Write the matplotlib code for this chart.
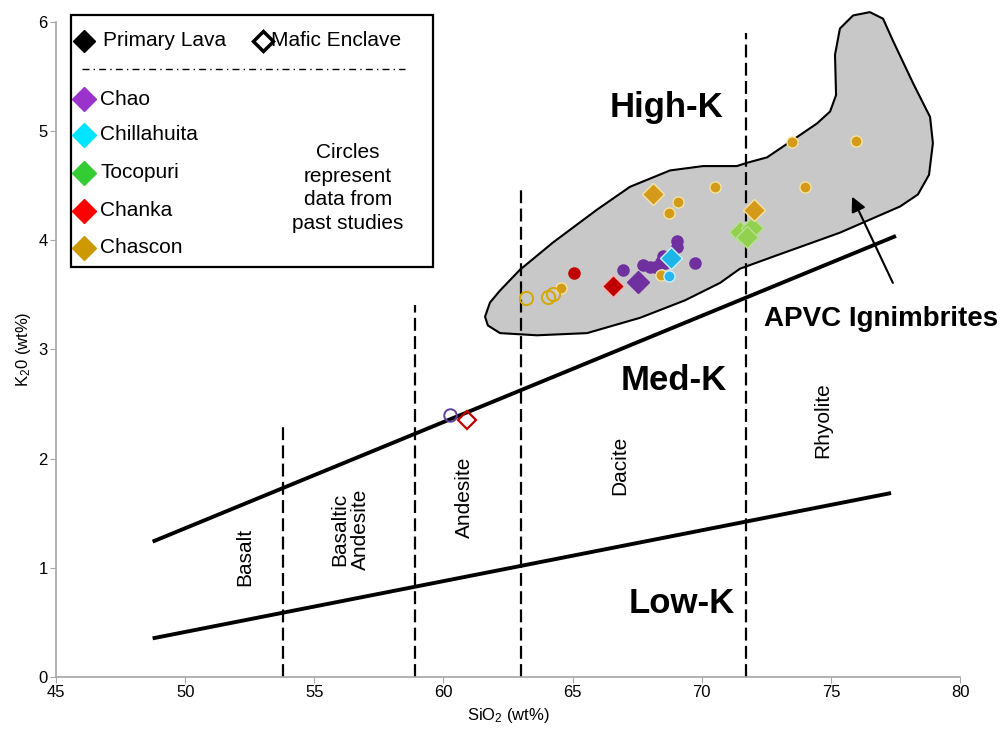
import matplotlib.pyplot as plt
from matplotlib.lines import Line2D

plt.rcParams['font.family'] = ['Liberation Sans', 'DejaVu Sans']
plt.rcParams['mathtext.default'] = 'regular'

# field boundaries (SiO2, K2O)
upper_sio2 = [48.74, 77.52]
upper_k2o = [1.24, 4.04]
lower_sio2 = [48.74, 77.33]
lower_k2o = [0.354, 1.685]

# rock-type dividers: SiO2 position and top of the dashed line
div_sio2 = [53.8, 58.9, 63.0, 71.7]
div_top = [2.31, 3.41, 4.49, 5.90]

rock_names = ['Basalt', 'Basaltic\nAndesite', 'Andesite', 'Dacite', 'Rhyolite']
rock_x = [52.32, 56.38, 60.83, 66.83, 74.69]
rock_y = [1.10, 1.35, 1.65, 1.94, 2.35]

# APVC ignimbrite field outline
apvc_sio2 = [61.61, 61.80, 62.19, 62.96, 64.24, 65.94, 67.22, 68.77, 70.05, 71.36,
             71.75, 72.53, 73.53, 74.46, 74.97, 75.20, 75.16, 75.35, 75.86, 76.51,
             77.02, 77.40, 78.18, 78.84, 78.95, 78.80, 78.37, 77.68, 75.35, 72.76,
             71.48, 70.71, 69.35, 67.61, 65.56, 63.62, 62.19, 61.72]
apvc_k2o = [3.30, 3.43, 3.54, 3.73, 3.98, 4.28, 4.49, 4.64, 4.68, 4.68,
            4.71, 4.76, 4.92, 5.07, 5.18, 5.33, 5.70, 5.94, 6.06, 6.09,
            6.03, 5.83, 5.44, 5.13, 4.89, 4.60, 4.42, 4.31, 4.07, 3.85,
            3.74, 3.61, 3.45, 3.29, 3.15, 3.13, 3.15, 3.22]

# this study: primary lavas (diamonds)
chao_d = ([67.54], [3.62])
chill_d = ([68.81], [3.84])
toco_d = ([71.48, 71.93, 71.74], [4.08, 4.11, 4.03])
chanka_d = ([66.55], [3.58])
chascon_d = ([68.11, 72.03], [4.42, 4.28])

# past studies (filled circles)
chao_c = ([66.94, 67.71, 68.00, 68.19, 68.42, 68.51, 68.58, 69.05, 69.05, 69.74],
          [3.73, 3.77, 3.76, 3.76, 3.80, 3.86, 3.79, 3.99, 3.94, 3.79])
chill_c = ([68.74], [3.67])
chanka_c = ([65.07], [3.70])
chascon_c = ([64.55, 68.41, 68.74, 69.09, 70.51, 73.48, 75.99, 74.00],
             [3.56, 3.68, 4.25, 4.35, 4.49, 4.90, 4.91, 4.49])
# past studies, hollow circles
chascon_open = ([63.20, 64.06, 64.23], [3.47, 3.48, 3.51])

# mafic enclaves
enclave_chao = ([60.25], [2.40])
enclave_chanka = ([60.90], [2.35])

fig = plt.figure(figsize=(10.04, 7.30), dpi=100)
ax = fig.add_axes([0.0558, 0.0726, 0.9004, 0.8973])

ax.fill(apvc_sio2, apvc_k2o, facecolor='#C8C8C8', edgecolor='black', lw=1.5,
        joinstyle='round', clip_on=False, zorder=1)

ax.plot(upper_sio2, upper_k2o, color='black', lw=2.8, solid_capstyle='butt', zorder=2)
ax.plot(lower_sio2, lower_k2o, color='black', lw=2.8, solid_capstyle='butt', zorder=2)
for x, top in zip(div_sio2, div_top):
    ax.plot([x, x], [0, top], color='black', lw=1.6, ls=(0, (5.8, 2.4)),
            clip_on=False, zorder=2)

for name, x, y in zip(rock_names, rock_x, rock_y):
    ax.text(x, y, name, rotation=90, ha='center', va='center', fontsize=15,
            linespacing=1.1)

ax.text(68.65, 5.13, 'High-K', fontsize=25, fontweight='bold', ha='center', va='baseline')
ax.text(68.91, 2.63, 'Med-K', fontsize=25, fontweight='bold', ha='center', va='baseline')
ax.text(69.24, 0.586, 'Low-K', fontsize=25, fontweight='bold', ha='center', va='baseline')
ax.text(76.94, 3.215, 'APVC Ignimbrites', fontsize=20, fontweight='bold',
        ha='center', va='baseline', zorder=5)
ax.annotate('', xy=(75.82, 4.40), xytext=(77.40, 3.61),
            arrowprops=dict(arrowstyle='-|>', color='black', lw=1.5,
                            mutation_scale=22, shrinkA=0, shrinkB=0), zorder=5)

# circles from past studies
c_kw = dict(ls='none', marker='o', ms=8, mew=1.0, zorder=3)
ax.plot(*chao_c, mfc='#7030A0', mec='#7030A0', **c_kw)
ax.plot(*chascon_c, mfc='#D49B1A', mec='#F5E3A0', **c_kw)
ax.plot(*chill_c, mfc='#29B6F0', mec='#C8F0FF', **c_kw)
ax.plot(*chanka_c, mfc='#C00000', mec='#C00000', **c_kw)
ax.plot(*chascon_open, ls='none', marker='o', ms=9.5, mfc='none', mec='#D4A800',
        mew=1.4, zorder=3)

# diamonds from this study
d_kw = dict(ls='none', marker='D', ms=11, mew=1.0, zorder=4)
ax.plot(*chao_d, mfc='#7030A0', mec='#7030A0', **d_kw)
ax.plot(*chill_d, mfc='#1CB5E8', mec='#C8F0FF', **d_kw)
ax.plot(*toco_d, mfc='#92D050', mec='#B8E090', **d_kw)
ax.plot(*chanka_d, mfc='#C00000', mec='#FFB0B0', **d_kw)
ax.plot(*chascon_d, mfc='#D49B1A', mec='#F5E3A0', **d_kw)

# mafic enclaves (hollow)
ax.plot(*enclave_chao, ls='none', marker='o', ms=9, mfc='none', mec='#6040A0',
        mew=1.4, zorder=4)
ax.plot(*enclave_chanka, ls='none', marker='D', ms=9, mfc='none', mec='#C00000',
        mew=1.6, zorder=4)

# hand-made legend box
T = ax.transAxes
box = plt.Rectangle((0.0166, 0.626), 0.4004, 0.3847, transform=T, fill=True,
                    facecolor='white', edgecolor='black', lw=1.6, clip_on=False, zorder=6)
ax.add_patch(box)
ax.add_line(Line2D([0.031], [0.971], transform=T, marker='D', ms=11, color='black',
                   ls='none', clip_on=False, zorder=7))
ax.text(0.052, 0.971, 'Primary Lava', transform=T, fontsize=15, va='center', zorder=7)
ax.add_line(Line2D([0.229], [0.971], transform=T, marker='D', ms=10, mfc='white',
                   mec='black', mew=2.5, ls='none', clip_on=False, zorder=7))
ax.text(0.238, 0.971, 'Mafic Enclave', transform=T, fontsize=15, va='center', zorder=7)
ax.add_line(Line2D([0.0288, 0.386], [0.928, 0.928], transform=T, color='black',
                   lw=1.0, ls=(0, (5, 3, 1, 3)), clip_on=False, zorder=7))

legend_names = ['Chao', 'Chillahuita', 'Tocopuri', 'Chanka', 'Chascon']
legend_colors = ['#9933CC', '#00E5FF', '#33CC33', '#FF0000', '#CC9900']
legend_y = [0.8824, 0.8275, 0.7695, 0.7115, 0.655]
for name, col, y in zip(legend_names, legend_colors, legend_y):
    ax.add_line(Line2D([0.031], [y], transform=T, marker='D', ms=12, color=col,
                       ls='none', clip_on=False, zorder=7))
    ax.text(0.0487, y, name, transform=T, fontsize=15, va='center', zorder=7)
ax.text(0.323, 0.7466, 'Circles\nrepresent\ndata from\npast studies', transform=T,
        fontsize=15, ha='center', va='center', linespacing=1.3, zorder=7)

ax.set_xlim(45, 80)
ax.set_ylim(0, 6)
ax.set_xticks(range(45, 81, 5))
ax.set_yticks(range(0, 7))
for s in ['top', 'right']:
    ax.spines[s].set_visible(False)
for s in ['left', 'bottom']:
    ax.spines[s].set_color('#A6A6A6')
    ax.spines[s].set_linewidth(1.2)
ax.tick_params(colors='#A6A6A6', labelcolor='black', length=4, labelsize=12, pad=2)
for lab in ax.get_xticklabels() + ax.get_yticklabels():
    lab.set_family(['Liberation Sans Narrow', 'Liberation Sans'])
ax.set_xlabel('SiO$_2$ (wt%)', fontsize=12, family=['Liberation Sans Narrow', 'Liberation Sans'])
ax.set_ylabel('K$_2$0 (wt%)', fontsize=12, family=['Liberation Sans Narrow', 'Liberation Sans'])

fig.savefig('out.png', dpi=100)
